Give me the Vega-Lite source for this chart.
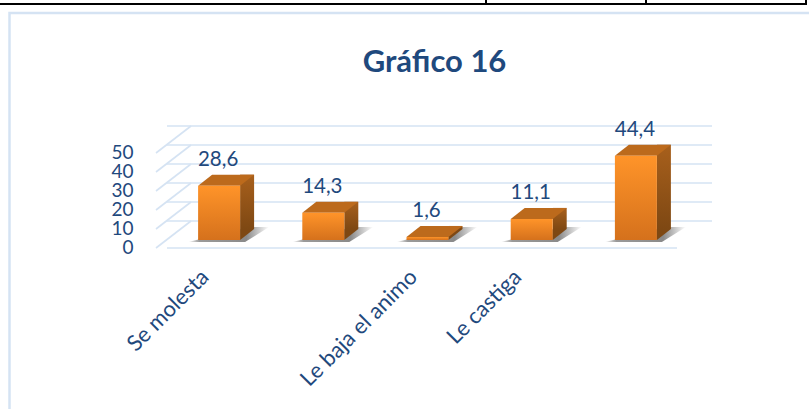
{"$schema":"https://vega.github.io/schema/vega-lite/v6.json","width":521,"height":95,"autosize":{"type":"none"},"padding":{"left":167,"top":145,"right":121,"bottom":169},"background":"#ffffff","config":{"view":{"stroke":null},"font":"Lato","axisY":{"tickCount":6,"labelOverlap":false}},"title":{"text":"Gráfico 16","font":"Lato","fontSize":31,"fontWeight":"bold","color":"#1F497D","anchor":"middle","frame":"group","dx":7,"offset":-107,"baseline":"alphabetic"},"data":{"values":[{"categoria":"Se molesta","valor":28.6,"etiqueta":"28,6"},{"categoria":" ","valor":14.3,"etiqueta":"14,3"},{"categoria":"Le baja el animo","valor":1.6,"etiqueta":"1,6"},{"categoria":"Le castiga","valor":11.1,"etiqueta":"11,1"},{"categoria":"  ","valor":44.4,"etiqueta":"44,4"}]},"layer":[{"data":{"values":[{"marco":1}]},"mark":{"type":"point","shape":"M-418 216.5V-179.5H381.5","size":4,"filled":false,"stroke":"#D5E3F3","strokeWidth":2.5,"opacity":1},"encoding":{}},{"data":{"values":[{"marco":2}]},"mark":{"type":"point","shape":"M-427.5 -188.5H378.5V-192.5M58.5 -192.5V-188.5M218.5 -192.5V-188.5","size":4,"filled":false,"stroke":"#000000","strokeWidth":2,"opacity":1},"encoding":{}},{"data":{"values":[{"marca":0},{"marca":10},{"marca":20},{"marca":30},{"marca":40},{"marca":50}]},"layer":[{"mark":{"type":"rule","stroke":"#D5E3F3","strokeWidth":1.6,"xOffset":24,"x2Offset":24,"yOffset":-19},"encoding":{"y":{"field":"marca","type":"quantitative","scale":{"domain":[0,50],"nice":false},"axis":{"title":null,"domain":false,"ticks":false,"grid":false,"labelPadding":34,"labelOffset":7,"labelFont":"Lato","labelFontSize":19,"labelColor":"#1F497D"}}}},{"mark":{"type":"point","shape":"M-271.5 8L-236.5 -19","size":4,"filled":false,"stroke":"#D5E3F3","strokeWidth":1.6,"opacity":1},"encoding":{"y":{"field":"marca","type":"quantitative"}}}]},{"data":{"values":[{"marca":0}]},"mark":{"type":"rule","stroke":"#D5E3F3","strokeWidth":1.6,"xOffset":-11,"x2Offset":-11,"yOffset":8},"encoding":{"y":{"field":"marca","type":"quantitative"}}},{"mark":{"type":"point","shape":"M-31 2L26 2L50 -13L30 -13Z","size":4,"filled":true,"opacity":1,"fill":{"gradient":"linear","x1":0,"y1":0,"x2":1,"y2":0,"stops":[{"offset":0,"color":"#ffffff"},{"offset":0.14,"color":"#9a9a9a"},{"offset":0.72,"color":"#8a8a8a"},{"offset":1,"color":"#ffffff"}]}},"encoding":{"x":{"field":"categoria","type":"nominal","sort":null},"y":{"datum":0,"type":"quantitative"}}},{"mark":{"type":"bar","size":14,"xOffset":28,"yOffset":-11,"y2Offset":-11,"fill":{"gradient":"linear","x1":0,"y1":0,"x2":0,"y2":1,"stops":[{"offset":0,"color":"#A8601C"},{"offset":1,"color":"#7E4813"}]}},"encoding":{"x":{"field":"categoria","type":"nominal","sort":null},"y":{"field":"valor","type":"quantitative"}}},{"mark":{"type":"point","shape":"M21 0L35 -11L21 -11Z","size":4,"filled":true,"opacity":1,"fill":"#7E4813"},"encoding":{"x":{"field":"categoria","type":"nominal","sort":null},"y":{"datum":0,"type":"quantitative"}}},{"mark":{"type":"point","shape":"M-21 0L-7 -11L35 -11L21 0Z","size":4,"filled":true,"opacity":1,"fill":"#BC6A1C"},"encoding":{"x":{"field":"categoria","type":"nominal","sort":null},"y":{"field":"valor","type":"quantitative"}}},{"mark":{"type":"bar","size":42,"fill":{"gradient":"linear","x1":0,"y1":0,"x2":0,"y2":1,"stops":[{"offset":0,"color":"#FF9429"},{"offset":1,"color":"#D5711C"}]}},"encoding":{"x":{"field":"categoria","type":"nominal","sort":null,"scale":{"paddingInner":0,"paddingOuter":0},"axis":{"title":null,"domain":false,"ticks":false,"labelAngle":-45,"labelAlign":"right","labelBaseline":"middle","labelPadding":33,"labelOffset":-14,"labelFont":"Lato","labelFontSize":22,"labelColor":"#1F497D"}},"y":{"field":"valor","type":"quantitative"}}},{"mark":{"type":"text","dy":-26,"dx":-1,"font":"Lato","fontSize":20.5,"fill":"#1F497D"},"encoding":{"x":{"field":"categoria","type":"nominal","sort":null},"y":{"field":"valor","type":"quantitative"},"text":{"field":"etiqueta","type":"nominal"}}}]}
